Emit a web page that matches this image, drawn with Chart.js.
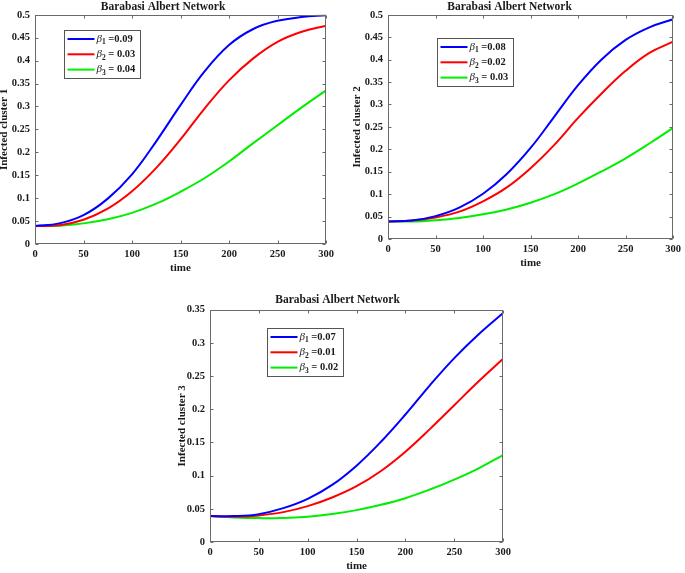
<!DOCTYPE html>
<html>
<head>
<meta charset="utf-8">
<script src="https://cdn.jsdelivr.net/npm/chart.js@4.4.1/dist/chart.umd.min.js"></script>
<style>
    body { margin: 0; background: #fff; width: 685px; height: 573px; overflow: hidden; position: relative; }
    .panel { position: absolute; }
</style>
</head>
<body>
<div class="panel" style="left:0;top:0;width:340px;height:275px"><canvas id="chart1"></canvas></div>
<div class="panel" style="left:345px;top:0;width:340px;height:270px"><canvas id="chart2"></canvas></div>
<div class="panel" style="left:170px;top:290px;width:345px;height:283px"><canvas id="chart3"></canvas></div>
<script>
/*---- data ----*/
var time = [0, 25, 50, 75, 100, 125, 150, 175, 200, 225, 250, 275, 300];

// cluster 1
var blue1  = [0.039, 0.045, 0.063, 0.099, 0.152, 0.224, 0.303, 0.377, 0.434, 0.469, 0.487, 0.495, 0.499];
var red1   = [0.039, 0.041, 0.053, 0.077, 0.115, 0.166, 0.228, 0.296, 0.357, 0.405, 0.441, 0.463, 0.476];
var green1 = [0.039, 0.040, 0.045, 0.054, 0.068, 0.088, 0.114, 0.144, 0.180, 0.220, 0.259, 0.298, 0.335];
var labels1 = ['β1 =0.09', 'β2 = 0.03', 'β3 = 0.04'];

// cluster 2
var blue2  = [0.039, 0.041, 0.051, 0.070, 0.101, 0.145, 0.203, 0.273, 0.343, 0.401, 0.444, 0.472, 0.490];
var red2   = [0.039, 0.041, 0.048, 0.061, 0.084, 0.115, 0.158, 0.210, 0.270, 0.325, 0.375, 0.415, 0.440];
var green2 = [0.039, 0.039, 0.042, 0.047, 0.055, 0.066, 0.081, 0.100, 0.124, 0.151, 0.180, 0.213, 0.248];
var labels2 = ['β1 =0.08', 'β2 =0.02', 'β3 = 0.03'];

// cluster 3
var blue3  = [0.039, 0.039, 0.042, 0.051, 0.065, 0.086, 0.115, 0.151, 0.192, 0.236, 0.277, 0.313, 0.345];
var red3   = [0.039, 0.038, 0.040, 0.045, 0.054, 0.067, 0.084, 0.107, 0.136, 0.170, 0.206, 0.242, 0.276];
var green3 = [0.039, 0.037, 0.036, 0.036, 0.038, 0.042, 0.048, 0.056, 0.066, 0.079, 0.094, 0.111, 0.131];
var labels3 = ['β1 =0.07', 'β2 =0.01', 'β3 = 0.02'];

var colors = ['#0000ff', '#ff0000', '#00ee00'];
var serif = '"Liberation Serif", "Times New Roman", serif';
var textColor = '#1a1a1a';

// box around the axes with inward ticks on all four sides (matlab look)
var matlabBox = {
    id: 'matlabBox',
    afterDatasetsDraw: function(chart) {
        var a = chart.chartArea, ctx = chart.ctx;
        var l = Math.round(a.left) + 0.5, r = Math.round(a.right) - 0.5;
        var t = Math.round(a.top) + 0.5, b = Math.round(a.bottom) - 0.5;
        ctx.save();
        ctx.strokeStyle = '#6a6a6a';
        ctx.lineWidth = 1;
        ctx.strokeRect(l, t, r - l, b - t);
        ctx.beginPath();
        chart.scales.x.ticks.forEach(function(tk) {
            var px = Math.round(chart.scales.x.getPixelForValue(tk.value)) + 0.5;
            ctx.moveTo(px, b); ctx.lineTo(px, b - 3);
            ctx.moveTo(px, t); ctx.lineTo(px, t + 3);
        });
        chart.scales.y.ticks.forEach(function(tk) {
            var py = Math.round(chart.scales.y.getPixelForValue(tk.value)) + 0.5;
            ctx.moveTo(l, py); ctx.lineTo(l + 3, py);
            ctx.moveTo(r, py); ctx.lineTo(r - 3, py);
        });
        ctx.stroke();
        ctx.restore();
    }
};

// legend with italic beta and subscript index
var betaLegend = {
    id: 'betaLegend',
    afterDatasetsDraw: function(chart, args, opts) {
        var a = chart.chartArea, ctx = chart.ctx;
        var x0 = Math.round(a.left + opts.dx) + 0.5, y0 = Math.round(a.top + opts.dy) + 0.5;
        var greekFont = 'italic 11px ' + serif;
        var subFont = 'bold 7.5px ' + serif;
        var restFont = 'bold 10.5px ' + serif;
        var rows = chart.data.datasets.map(function(ds) {
            var s = ds.label;
            ctx.font = greekFont; var w1 = ctx.measureText(s[0]).width;
            ctx.font = subFont;   var w2 = ctx.measureText(s[1]).width;
            ctx.font = restFont;  var w3 = ctx.measureText(s.slice(2)).width;
            return { greek: s[0], sub: s[1], rest: s.slice(2), w1: w1, w2: w2, w3: w3, color: ds.borderColor };
        });
        var maxW = Math.max.apply(null, rows.map(function(r) { return r.w1 + r.w2 + r.w3; }));
        var w = Math.round(3 + 27 + 2 + maxW + 5), h = 48;
        ctx.save();
        ctx.fillStyle = '#fff';
        ctx.fillRect(x0, y0, w, h);
        ctx.strokeStyle = '#555';
        ctx.lineWidth = 1;
        ctx.strokeRect(x0, y0, w, h);
        ctx.textBaseline = 'middle';
        ctx.textAlign = 'left';
        rows.forEach(function(r, i) {
            var y = y0 + 8.5 + i * 15.3;
            ctx.strokeStyle = r.color;
            ctx.lineWidth = 2;
            ctx.beginPath();
            ctx.moveTo(x0 + 3, y); ctx.lineTo(x0 + 30, y);
            ctx.stroke();
            var tx = x0 + 32;
            ctx.fillStyle = textColor;
            ctx.font = greekFont; ctx.fillText(r.greek, tx, y);
            ctx.font = subFont;   ctx.fillText(r.sub, tx + r.w1, y + 3.5);
            ctx.font = restFont;  ctx.fillText(r.rest, tx + r.w1 + r.w2, y);
        });
        ctx.restore();
    }
};

function points(values) {
    return time.map(function(t, i) { return { x: t, y: values[i] }; });
}

function make_chart(canvasId, series, labels, yTitle, yMax, layout) {
    var datasets = series.map(function(values, i) {
        return {
            label: labels[i],
            data: points(values),
            borderColor: colors[i],
            backgroundColor: colors[i],
            borderWidth: 2,
            pointRadius: 0,
            fill: false,
            tension: 0.4
        };
    });

    var context = document.getElementById(canvasId).getContext('2d');
    return new Chart(context, {
        type: 'line',
        data: { datasets: datasets },
        plugins: [matlabBox, betaLegend],
        options: {
            responsive: true,
            maintainAspectRatio: false,
            animation: false,
            layout: { padding: { left: 0, right: layout.right, top: 0, bottom: 0 } },
            plugins: {
                legend: { display: false },
                tooltip: { enabled: false },
                title: {
                    display: true,
                    text: 'Barabasi Albert Network',
                    color: textColor,
                    font: { family: serif, size: 11.5, weight: 'bold' },
                    padding: layout.titlePad
                },
                betaLegend: { dx: layout.legendX, dy: layout.legendY }
            },
            scales: {
                x: {
                    type: 'linear',
                    min: 0,
                    max: 300,
                    grid: { display: false, drawTicks: false },
                    border: { display: false },
                    ticks: {
                        stepSize: 50,
                        padding: 4,
                        maxRotation: 0,
                        color: textColor,
                        font: { family: serif, size: 10.5, weight: 'bold' }
                    },
                    title: {
                        display: true,
                        text: 'time',
                        color: textColor,
                        font: { family: serif, size: 11, weight: 'bold' },
                        padding: { top: 0, bottom: layout.timePad }
                    },
                    afterFit: function(scale) { scale.height = 31; }
                },
                y: {
                    min: 0,
                    max: yMax,
                    grid: { display: false, drawTicks: false },
                    border: { display: false },
                    ticks: {
                        stepSize: 0.05,
                        padding: 5,
                        color: textColor,
                        font: { family: serif, size: 10.5, weight: 'bold' },
                        callback: function(v) { return String(+v.toFixed(2)); }
                    },
                    title: {
                        display: true,
                        text: yTitle,
                        color: textColor,
                        font: { family: serif, size: 11, weight: 'bold' },
                        padding: { top: layout.yTitlePad, bottom: 0 }
                    },
                    afterFit: function(scale) { scale.width = layout.yWidth; }
                }
            }
        }
    });
}

make_chart('chart1', [blue1, red1, green1], labels1, 'Infected cluster 1', 0.5,
    { right: 14, yWidth: 35, yTitlePad: -2, timePad: 0.4, titlePad: { top: 0, bottom: 1 }, legendX: 29, legendY: 15 });
make_chart('chart2', [blue2, red2, green2], labels2, 'Infected cluster 2', 0.5,
    { right: 11, yWidth: 43, yTitlePad: 5.4, timePad: 0, titlePad: { top: 0, bottom: 1 }, legendX: 49, legendY: 23 });
make_chart('chart3', [blue3, red3, green3], labels3, 'Infected cluster 3', 0.35,
    { right: 10, yWidth: 40, yTitlePad: 5.4, timePad: 0.4, titlePad: { top: 3.4, bottom: 2.4 }, legendX: 57, legendY: 18 });
</script>
</body>
</html>
